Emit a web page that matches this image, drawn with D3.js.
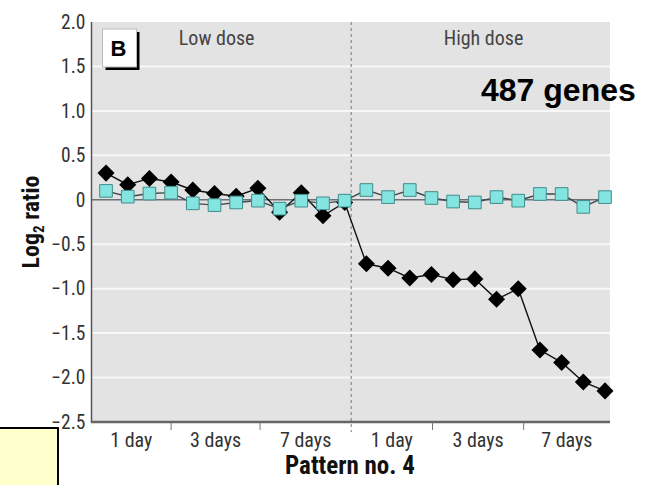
<!DOCTYPE html>
<html>
<head>
<meta charset="utf-8">
<script src="https://cdn.jsdelivr.net/npm/d3@7"></script>
<style>
  body { margin: 0; background: #fff; }
  svg { display: block; }
  .cond { font-family: "Liberation Sans Narrow", "Arial Narrow", "Roboto Condensed", "Liberation Sans", sans-serif; }
</style>
</head>
<body>
<div id="chart-area"></div>
<script>
//============================DATA============================
// one value per array per sample, 12 low dose then 12 high dose
var blackValues = [0.30, 0.17, 0.24, 0.20, 0.11, 0.07, 0.04, 0.13, -0.14, 0.08, -0.18, -0.03,
                   -0.72, -0.77, -0.88, -0.84, -0.90, -0.89, -1.12, -1.00, -1.69, -1.83, -2.05, -2.15];
var cyanValues  = [0.10, 0.035, 0.07, 0.08, -0.04, -0.06, -0.03, -0.01, -0.10, -0.01, -0.04, -0.01,
                   0.11, 0.03, 0.11, 0.02, -0.02, -0.03, 0.03, -0.01, 0.065, 0.065, -0.08, 0.03];
var timeLabels  = ["1 day", "3 days", "7 days", "1 day", "3 days", "7 days"];
var groupBounds = [-0.67, 3, 7.1, 11.3, 15.05, 19.25, 23.23];  // in sample index units
var doseLabels  = ["Low dose", "High dose"];
var yTicks      = [2.0, 1.5, 1.0, 0.5, 0, -0.5, -1.0, -1.5, -2.0, -2.5];

//============================GLOBALS============================
var margins = { left: 91.5, right: 47, top: 22, bottom: 63 };
var W = 657, H = 485;
var width = W - margins.left - margins.right;
var height = H - margins.top - margins.bottom;

var svg = d3.select("#chart-area")
    .append("svg")
    .attr("width", W)
    .attr("height", H);

var g = svg.append("g")
    .attr("transform", "translate(" + margins.left + ", " + margins.top + ")");

var x = d3.scaleLinear()
    .domain([groupBounds[0], groupBounds[groupBounds.length - 1]])
    .range([0, width]);

var y = d3.scaleLinear()
    .domain([-2.5, 2.0])
    .range([height, 0]);

// plot background
g.append("rect")
    .attr("width", width)
    .attr("height", height)
    .attr("fill", "#e3e3e3");

// white gridlines
g.selectAll(".grid")
    .data(yTicks.filter(function(d){ return d !== 0 && d !== 2.0 && d !== -2.5; }))
    .enter().append("line")
    .attr("x1", 0).attr("x2", width)
    .attr("y1", function(d){ return y(d); })
    .attr("y2", function(d){ return y(d); })
    .attr("stroke", "#f8f8f8")
    .attr("stroke-width", 2);

// zero line
g.append("line")
    .attr("x1", 0).attr("x2", width)
    .attr("y1", y(0)).attr("y2", y(0))
    .attr("stroke", "#6b7378")
    .attr("stroke-width", 1.5);

// dose divider
g.append("line")
    .attr("x1", x(groupBounds[3])).attr("x2", x(groupBounds[3]))
    .attr("y1", 0).attr("y2", height + 10)
    .attr("stroke", "#777")
    .attr("stroke-width", 1)
    .attr("stroke-dasharray", "3,3");

// y axis labels (no tick marks)
var fmtY = function(d){ return d === 0 ? "0" : d3.format(".1f")(d).replace("-", "\u2212"); };
var yAxis = g.append("g")
    .call(d3.axisLeft(y).tickValues(yTicks).tickFormat(fmtY).tickSize(0).tickPadding(6));
yAxis.select(".domain").remove();
yAxis.selectAll("text")
    .attr("class", "cond")
    .attr("font-size", "19.5px")
    .attr("fill", "#333");

// axis lines
g.append("line")
    .attr("x1", 0).attr("x2", 0)
    .attr("y1", 0).attr("y2", height)
    .attr("stroke", "#555").attr("stroke-width", 1.5);
g.append("line")
    .attr("x1", -0.75).attr("x2", width)
    .attr("y1", height).attr("y2", height)
    .attr("stroke", "#666").attr("stroke-width", 2.5);

// group tick marks
g.selectAll(".gtick")
    .data([groupBounds[1], groupBounds[2], groupBounds[4], groupBounds[5]])
    .enter().append("line")
    .attr("x1", function(d){ return x(d); })
    .attr("x2", function(d){ return x(d); })
    .attr("y1", height).attr("y2", height + 8)
    .attr("stroke", "#777").attr("stroke-width", 1);

// group labels
g.selectAll(".glabel")
    .data(timeLabels)
    .enter().append("text")
    .attr("class", "cond")
    .attr("x", function(d, i){ return x((groupBounds[i] + groupBounds[i + 1]) / 2); })
    .attr("y", height + 25)
    .attr("text-anchor", "middle")
    .attr("font-size", "20px")
    .attr("fill", "#333")
    .text(function(d){ return d; });

// dose labels
g.selectAll(".dose")
    .data(doseLabels)
    .enter().append("text")
    .attr("class", "cond")
    .attr("x", function(d, i){ return i === 0 ? x(5.1) : x(17.4); })
    .attr("y", 23)
    .attr("text-anchor", "middle")
    .attr("font-size", "20px")
    .attr("fill", "#444")
    .text(function(d){ return d; });

// "B" panel badge
var badge = g.append("g").attr("transform", "translate(11, 7)");
badge.append("rect")
    .attr("x", 3).attr("y", 3).attr("width", 34).attr("height", 38)
    .attr("fill", "#000");
badge.append("rect")
    .attr("width", 34).attr("height", 38)
    .attr("fill", "#fff")
    .attr("stroke", "#bbb").attr("stroke-width", 1);
badge.append("text")
    .attr("x", 16).attr("y", 27)
    .attr("text-anchor", "middle")
    .attr("font-family", "Liberation Sans, Arial, sans-serif")
    .attr("font-weight", "bold")
    .attr("font-size", "22px")
    .text("B");

// lines
var line = function(vals){
    return d3.line()
        .x(function(d, i){ return x(i); })
        .y(function(d){ return y(d); })(vals);
};
g.append("path")
    .attr("d", line(blackValues))
    .attr("fill", "none")
    .attr("stroke", "#111")
    .attr("stroke-width", 1.4);

g.selectAll(".diamond")
    .data(blackValues)
    .enter().append("path")
    .attr("d", d3.symbol().type(d3.symbolSquare).size(145))
    .attr("transform", function(d, i){ return "translate(" + x(i) + "," + y(d) + ") rotate(45)"; })
    .attr("fill", "#000");

g.append("path")
    .attr("d", line(cyanValues))
    .attr("fill", "none")
    .attr("stroke", "#3d4a4c")
    .attr("stroke-width", 1.4);

g.selectAll(".square")
    .data(cyanValues)
    .enter().append("path")
    .attr("d", d3.symbol().type(d3.symbolSquare).size(160))
    .attr("transform", function(d, i){ return "translate(" + x(i) + "," + y(d) + ")"; })
    .attr("fill", "#84e4e0")
    .attr("stroke", "#3f8c8c")
    .attr("stroke-width", 1);

// axis titles
svg.append("text")
    .attr("class", "cond")
    .attr("x", 350)
    .attr("y", 474)
    .attr("text-anchor", "middle")
    .attr("font-size", "25px")
    .attr("font-weight", "bold")
    .attr("fill", "#111")
    .text("Pattern no. 4");

var ylab = svg.append("text")
    .attr("class", "cond")
    .attr("transform", "translate(39, 222) rotate(-90)")
    .attr("text-anchor", "middle")
    .attr("font-size", "24px")
    .attr("font-weight", "bold")
    .attr("fill", "#111");
ylab.append("tspan").text("Log");
ylab.append("tspan").attr("font-size", "15px").attr("dy", 5).text("2");
ylab.append("tspan").attr("dy", -5).text(" ratio");

// annotation
svg.append("text")
    .attr("x", 481)
    .attr("y", 101)
    .attr("font-family", "Liberation Sans, Arial, sans-serif")
    .attr("font-weight", "bold")
    .attr("font-size", "32px")
    .attr("fill", "#000")
    .text("487 genes");

// yellow note box in the corner
svg.append("rect")
    .attr("x", -2).attr("y", 428)
    .attr("width", 60).attr("height", 60)
    .attr("fill", "#ffffcc")
    .attr("stroke", "#000")
    .attr("stroke-width", 2);
</script>
</body>
</html>
